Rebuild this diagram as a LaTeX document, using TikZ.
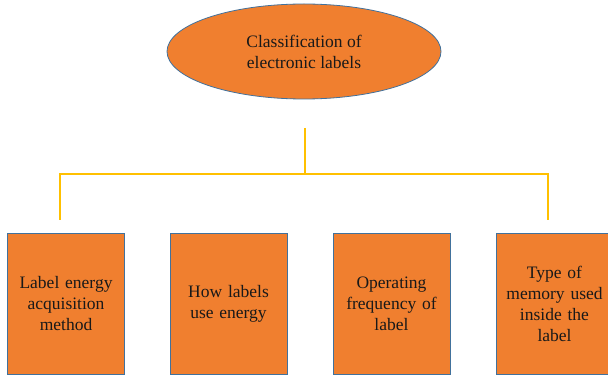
\documentclass[tikz,border=0pt]{standalone}
\usepackage{fontspec}
\setmainfont{Liberation Serif}
\newfontfamily\labserif{Liberation Serif}
\usetikzlibrary{shapes.geometric}
\definecolor{orfill}{HTML}{F07F2F}
\definecolor{bord}{HTML}{41719C}
\definecolor{conn}{HTML}{FFC000}
\begin{document}
\begin{tikzpicture}[x=1pt,y=-1pt,
  txt/.style={font=\labserif\fontsize{17.5}{21}\selectfont, align=center, text=black!90},
  ell/.style={ellipse, draw=bord, fill=orfill, line width=0.8pt, minimum width=274pt, minimum height=95pt, inner sep=0pt, txt},
  catbox/.style={rectangle, draw=bord, fill=orfill, line width=0.8pt, minimum width=117pt, minimum height=141pt, inner sep=0pt, txt, text width=112pt},
  link/.style={draw=conn, line width=1.3pt}]
\useasboundingbox (0,0) rectangle (608,379);
\clip (0,0) rectangle (608,379);
\node[ell] (root) at (304,51.5) {Classification of\\electronic labels};
\node[catbox] (b1) at (66,303.5) {Label energy\\acquisition\\method};
\node[catbox] (b2) at (228.5,303.5) {How labels\\use energy};
\node[catbox] (b3) at (391.5,303.5) {Operating\\frequency of\\label};
\node[catbox] (b4) at (554.5,303.5) {Type of\\memory used\\inside the\\label};
\coordinate (top) at (305,128);
\coordinate (mid) at (305,174);
\coordinate (hl) at (60,174);
\coordinate (hr) at (548,174);
\coordinate (dl) at (60,220);
\coordinate (dr) at (548,220);
\draw[link] (top) -- (mid);
\draw[link] (dl) -- (hl) -- (hr) -- (dr);
\end{tikzpicture}
\end{document}
